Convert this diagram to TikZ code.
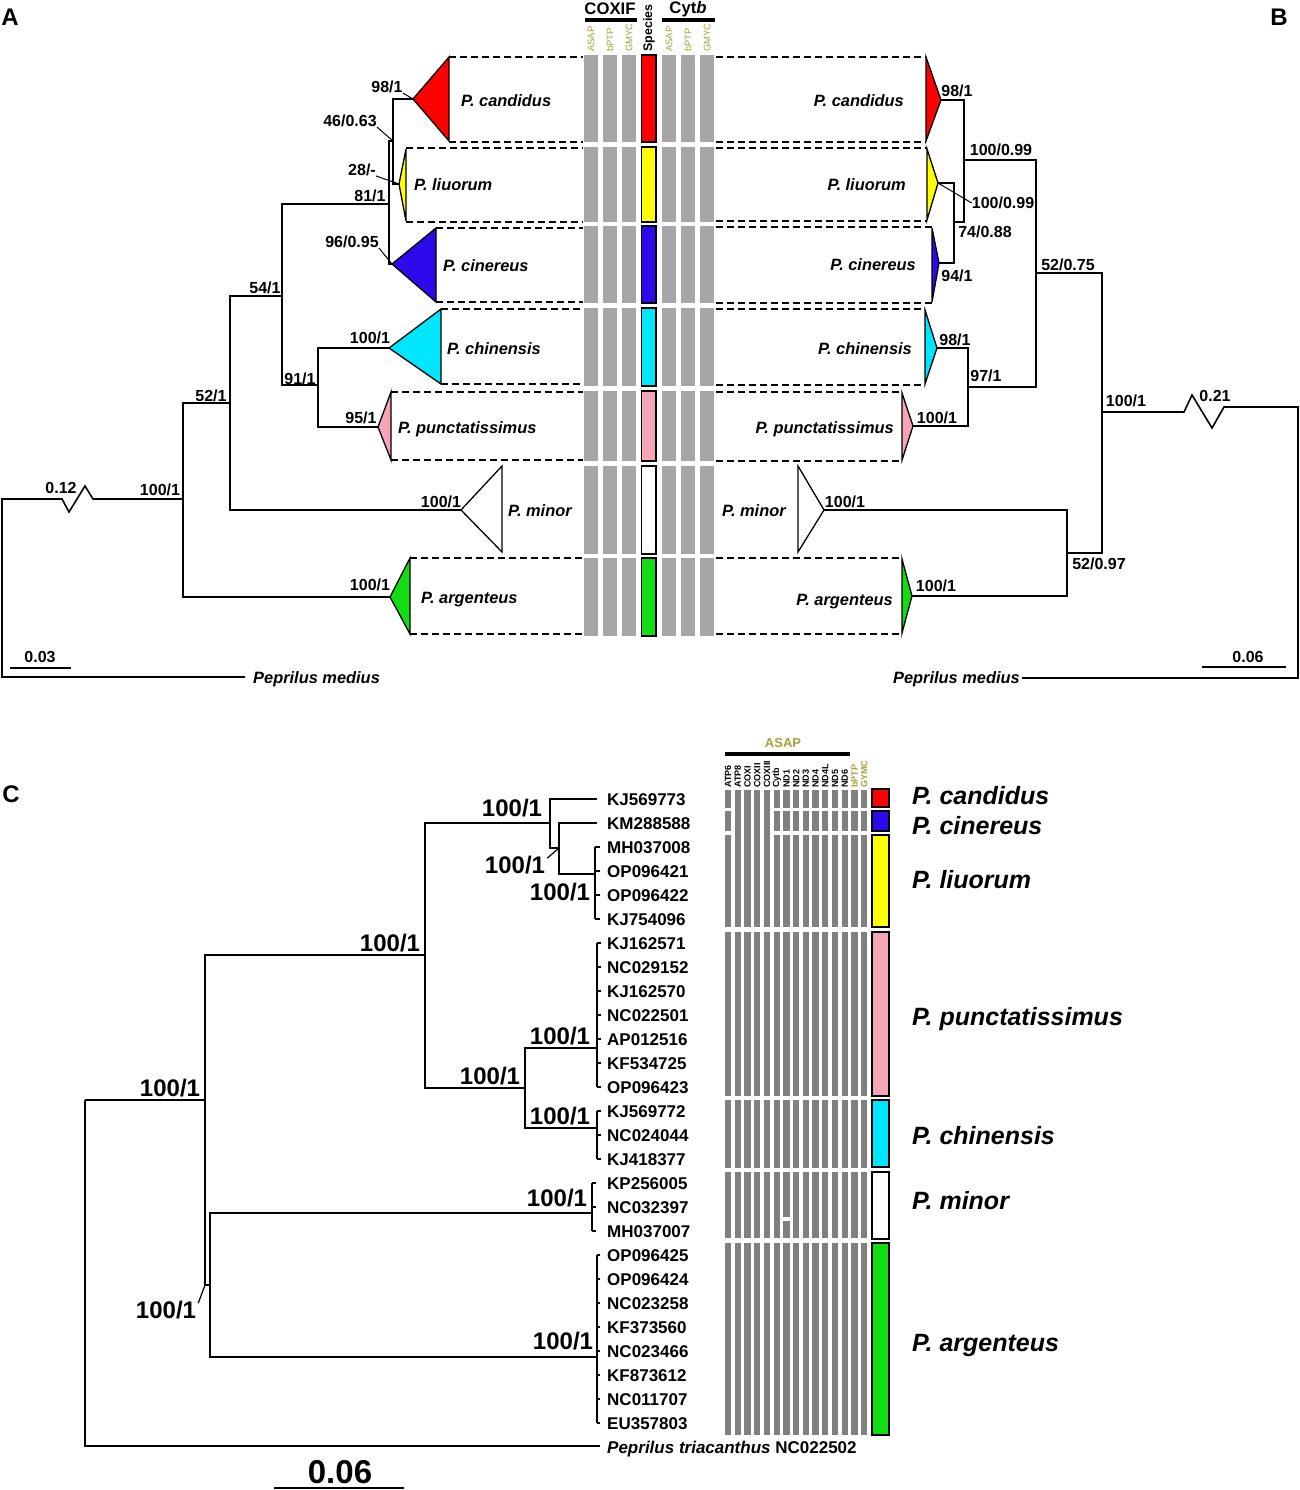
\documentclass[tikz,border=0pt]{standalone}
\usepackage{fontspec}
\setmainfont{Liberation Sans}
\definecolor{asap}{RGB}{166,160,60}
\definecolor{greyA}{RGB}{166,166,166}
\definecolor{greyC}{RGB}{128,128,128}
\definecolor{spred}{RGB}{255,0,0}
\definecolor{spyel}{RGB}{255,255,0}
\definecolor{spblu}{RGB}{45,10,235}
\definecolor{spcya}{RGB}{0,230,255}
\definecolor{sppin}{RGB}{245,165,182}
\definecolor{spgrn}{RGB}{20,220,20}
\newcommand\fsz[1]{\fontsize{#1}{#1}\selectfont}
\begin{document}
\begin{tikzpicture}[x=1pt,y=-1pt,line join=miter,
  br/.style={line width=1.6pt},
  tri/.style={line width=1.3pt},
  dsh/.style={dash pattern=on 7pt off 4pt,line width=2.6pt},
  sup/.style={font=\fsz{16}\bfseries,inner sep=0pt,text height=11.5pt,text depth=0pt},
  spl/.style={font=\fsz{16.4}\bfseries\itshape,inner sep=0pt,text height=11.8pt,text depth=0pt},
  acc/.style={font=\fsz{17}\bfseries,inner sep=0pt,text height=12.2pt,text depth=0pt,anchor=west},
  supc/.style={font=\fsz{24}\bfseries,inner sep=0pt,text height=17.3pt,text depth=0pt},
  spc/.style={font=\fsz{25}\bfseries\itshape,inner sep=0pt,text height=18pt,text depth=0pt,anchor=west},
  vlab/.style={font=\fsz{9.5},rotate=90,anchor=west,inner sep=0pt,text=asap},
  clab/.style={font=\fsz{9}\bfseries,rotate=90,anchor=west,inner sep=0pt},
  pl/.style={font=\fsz{24}\bfseries,inner sep=0pt}]
\useasboundingbox (0,0) rectangle (1299,1490);

% ---------------- panel letters
\node[pl] (lA) at (10,17) {A};
\node[pl] (lB) at (1279,17) {B};
\node[pl] (lC) at (11,794) {C};

% ---------------- panel A/B header
\node[font=\fsz{16.7}\bfseries,inner sep=0pt] (hCOX) at (610,9) {COXIF};
\node[font=\fsz{16.7}\bfseries,inner sep=0pt] (hCyt) at (688,9) {Cyt\textit{b}};
\draw[line width=4pt] (585,20) -- (637,20);
\draw[line width=4pt] (662,20) -- (715,20);
\node[vlab] (v1) at (591,52) {ASAP};
\node[vlab] (v2) at (610,52) {bPTP};
\node[vlab] (v3) at (629,52) {GMYC};
\node[font=\fsz{12.5}\bfseries,rotate=90,anchor=west,inner sep=0pt] (vsp) at (649,52) {Species};
\node[vlab] (v4) at (669,52) {ASAP};
\node[vlab] (v5) at (688,52) {bPTP};
\node[vlab] (v6) at (707,52) {GMYC};

% grey columns
\foreach \ya/\yb in {55/142,147/222,226/303,308/386,391/461,466/554,558/636}{
  \foreach \xa in {584,603,622,662,681,700}{
    \fill[greyA] (\xa,\ya) rectangle (\xa+14,\yb);
  }
}
\foreach \ya/\yb/\c in {55/142/spred,147/222/spyel,226/303/spblu,308/386/spcya,391/461/sppin,466/554/white,558/636/spgrn}{
  \draw[line width=1.3pt,fill=\c] (641.5,\ya) rectangle (656,\yb);
}

% dashed boxes left
\foreach \xa/\ya/\yb in {449/57/142,406/148/222,436/228/302,441/309/384,391/392/460,410/558/634}{
  \draw[dsh] (\xa,\ya) -- (583,\ya);
  \draw[dsh] (\xa,\yb) -- (583,\yb);
}
% dashed boxes right
\foreach \xa/\ya/\yb in {926/57/142,927/148/221,932/227/303,925/309/385,902/392/461,902/558/634}{
  \draw[dsh] (716,\ya) -- (\xa,\ya);
  \draw[dsh] (716,\yb) -- (\xa,\yb);
}

% ---------------- left tree (A)
\coordinate (Lroot) at (2,499);
\coordinate (Lout) at (245,677);
\coordinate (L100) at (183,499);
\coordinate (L52) at (230,403);
\coordinate (L54) at (282,296);
\coordinate (L81) at (389,204);
\coordinate (L46) at (393,141);
\coordinate (L91) at (318,385);
\coordinate (Lcan) at (413,99);
\coordinate (Lliu) at (399,184);
\coordinate (Lcin) at (392,264);
\coordinate (Lchi) at (389,348);
\coordinate (Lpun) at (378,427);
\coordinate (Lmin) at (461,510);
\coordinate (Larg) at (390,597);

\draw[tri,fill=spred] (Lcan) -- (449,57) -- (449,141) -- cycle;
\draw[tri,fill=spyel] (Lliu) -- (406,149) -- (406,221) -- cycle;
\draw[tri,fill=spblu] (Lcin) -- (436,228) -- (436,302) -- cycle;
\draw[tri,fill=spcya] (Lchi) -- (441,309) -- (441,384) -- cycle;
\draw[tri,fill=sppin] (Lpun) -- (391,392) -- (391,460) -- cycle;
\draw[tri,fill=white] (Lmin) -- (502,466) -- (502,552) -- cycle;
\draw[tri,fill=spgrn] (Larg) -- (410,558) -- (410,634) -- cycle;

\draw[br] (L100) |- (Larg);
\draw[br] (L100) |- (L52);
\draw[br] (L52) |- (Lmin);
\draw[br] (L52) |- (L54);
\draw[br] (L54) |- (L81);
\draw[br] (L54) |- (L91);
\draw[br] (L81) |- (L46);
\draw[br] (L81) |- (Lcin);
\draw[br] (L46) |- (Lcan);
\draw[br] (L46) |- (Lliu);
\draw[br] (L91) |- (Lchi);
\draw[br] (L91) |- (Lpun);
\draw[br] (L100) -- (93,499) -- (85,486) -- (69,512) -- (62,499) -- (Lroot) -- (2,677) -- (Lout);
\draw[br] (10,668) -- (71,668);

\node[spl,anchor=west] (sLcan) at (461,101) {P. candidus};
\node[spl,anchor=west] (sLliu) at (414,185) {P. liuorum};
\node[spl,anchor=west] (sLcin) at (443,266) {P. cinereus};
\node[spl,anchor=west] (sLchi) at (447,349) {P. chinensis};
\node[spl,anchor=west] (sLpun) at (398,428) {P. punctatissimus};
\node[spl,anchor=west] (sLmin) at (508,511) {P. minor};
\node[spl,anchor=west] (sLarg) at (421,598) {P. argenteus};
\node[spl,anchor=west] (sLout) at (253,678) {Peprilus medius};

\node[sup] (a1) at (387,87) {98/1};
\node[sup] (a2) at (350,121) {46/0.63};
\node[sup] (a3) at (362,170) {28/-};
\node[sup] (a4) at (370,196) {81/1};
\node[sup] (a5) at (352,242) {96/0.95};
\node[sup] (a6) at (265,288) {54/1};
\node[sup] (a7) at (370,338) {100/1};
\node[sup] (a8) at (300,379) {91/1};
\node[sup] (a9) at (361,418) {95/1};
\node[sup] (a10) at (211,396) {52/1};
\node[sup] (a11) at (441,502) {100/1};
\node[sup] (a12) at (160,490) {100/1};
\node[sup] (a13) at (61,488) {0.12};
\node[sup] (a14) at (370,585) {100/1};
\node[sup] (a15) at (40,657) {0.03};
\draw[line width=1pt] (a1.south east) -- (Lcan);
\draw[line width=1pt] (a2.south east) -- (L46);
\draw[line width=1pt] (a3.south east) -- (Lliu);
\draw[line width=1pt] (a5.south east) -- (Lcin);

% ---------------- right tree (B)
\coordinate (Rcan) at (941,100);
\coordinate (Rliu) at (938,183);
\coordinate (Rcin) at (939,263);
\coordinate (Rchi) at (937,348);
\coordinate (Rpun) at (913,426);
\coordinate (Rmin) at (824,510);
\coordinate (Rarg) at (912,596);
\coordinate (R94) at (954,222);
\coordinate (R100a) at (964,160);
\coordinate (R97) at (968,387);
\coordinate (R52a) at (1036,273);
\coordinate (R52b) at (1067,553);
\coordinate (R100b) at (1102,412);
\coordinate (Rout) at (1022,678);

\draw[tri,fill=spred] (Rcan) -- (926,57) -- (926,141) -- cycle;
\draw[tri,fill=spyel] (Rliu) -- (927,149) -- (927,220) -- cycle;
\draw[tri,fill=spblu] (Rcin) -- (932,228) -- (932,302) -- cycle;
\draw[tri,fill=spcya] (Rchi) -- (925,310) -- (925,384) -- cycle;
\draw[tri,fill=sppin] (Rpun) -- (902,393) -- (902,460) -- cycle;
\draw[tri,fill=white] (Rmin) -- (798,466) -- (798,552) -- cycle;
\draw[tri,fill=spgrn] (Rarg) -- (902,559) -- (902,633) -- cycle;

\draw[br] (R94) |- (Rliu);
\draw[br] (R94) |- (Rcin);
\draw[br] (R100a) |- (Rcan);
\draw[br] (R100a) |- (R94);
\draw[br] (R97) |- (Rchi);
\draw[br] (R97) |- (Rpun);
\draw[br] (R52a) |- (R100a);
\draw[br] (R52a) |- (R97);
\draw[br] (R52b) |- (Rmin);
\draw[br] (R52b) |- (Rarg);
\draw[br] (R100b) |- (R52a);
\draw[br] (R100b) |- (R52b);
\draw[br] (R100b) -- (1184,412) -- (1192,395) -- (1212,428) -- (1224,407) -- (1298,407) -- (1298,678) -- (Rout);
\draw[br] (1202,667) -- (1286,667);

\node[spl,anchor=east] (sRcan) at (904,101) {P. candidus};
\node[spl,anchor=east] (sRliu) at (906,185) {P. liuorum};
\node[spl,anchor=east] (sRcin) at (916,265) {P. cinereus};
\node[spl,anchor=east] (sRchi) at (912,349) {P. chinensis};
\node[spl,anchor=east] (sRpun) at (894,428) {P. punctatissimus};
\node[spl,anchor=west] (sRmin) at (722,511) {P. minor};
\node[spl,anchor=east] (sRarg) at (893,600) {P. argenteus};
\node[spl,anchor=east] (sRout) at (1020,678) {Peprilus medius};

\node[sup] (b1) at (957,91) {98/1};
\node[sup] (b2) at (1001,150) {100/0.99};
\node[sup] (b3) at (1003,203) {100/0.99};
\node[sup] (b4) at (985,232) {74/0.88};
\node[sup] (b5) at (957,276) {94/1};
\node[sup] (b6) at (1068,265) {52/0.75};
\node[sup] (b7) at (955,340) {98/1};
\node[sup] (b8) at (986,376) {97/1};
\node[sup] (b9) at (937,418) {100/1};
\node[sup] (b10) at (1126,401) {100/1};
\node[sup] (b11) at (1215,396) {0.21};
\node[sup] (b12) at (845,502) {100/1};
\node[sup] (b13) at (1099,564) {52/0.97};
\node[sup] (b14) at (936,586) {100/1};
\node[sup] (b15) at (1248,657) {0.06};
\draw[line width=1pt] (Rliu) -- (b3.west);

% ---------------- panel C header and columns
\node[font=\fsz{13}\bfseries,text=asap,inner sep=0pt] (hASAP) at (783,743) {ASAP};
\draw[line width=4pt] (725,754) -- (850,754);
\foreach \t [count=\i from 0] in {ATP6,ATP8,COXI,COXII,COXIII,Cytb,ND1,ND2,ND3,ND4,ND4L,ND5,ND6}{
  \node[clab] (cl\i) at ({728.1+9.72*\i},788) {\t};
}
\node[clab,text=asap] (cl13) at ({728.1+9.72*13},788) {bPTP};
\node[clab,text=asap] (cl14) at ({728.1+9.72*14},788) {GYMC};

\foreach \i in {0,...,14}{
  \foreach \ya/\yb in {790/808,811/831,835/927,932/1096,1100/1168,1172/1238,1243/1435}{
    \fill[greyC] ({725+9.72*\i},\ya) rectangle ({731.2+9.72*\i},\yb);
  }
}
\foreach \i in {1,...,4}{
  \fill[greyC] ({725+9.72*\i},807) rectangle ({731.2+9.72*\i},836);
}
\fill[white] ({724+9.72*6},1217) rectangle ({732.2+9.72*6},1221);

\foreach \ya/\yb/\c in {789/807/spred,811/831/spblu,835/927/spyel,932/1096/sppin,1100/1167/spcya,1172/1239/white,1243/1435/spgrn}{
  \draw[line width=1.5pt,fill=\c] (872,\ya) rectangle (889,\yb);
}

\node[spc] (cs1) at (912,795) {P. candidus};
\node[spc] (cs2) at (912,825) {P. cinereus};
\node[spc] (cs3) at (912,879) {P. liuorum};
\node[spc] (cs4) at (912,1016) {P. punctatissimus};
\node[spc] (cs5) at (912,1135) {P. chinensis};
\node[spc] (cs6) at (912,1200) {P. minor};
\node[spc] (cs7) at (912,1342) {P. argenteus};

% accessions
\foreach \t [count=\i from 0] in {KJ569773,KM288588,MH037008,OP096421,OP096422,KJ754096,KJ162571,NC029152,KJ162570,NC022501,AP012516,KF534725,OP096423,KJ569772,NC024044,KJ418377,KP256005,NC032397,MH037007,OP096425,OP096424,NC023258,KF373560,NC023466,KF873612,NC011707,EU357803}{
  \node[acc] (acc\i) at (607,{799+24*\i}) {\t};
}
\node[acc] (accout) at (607,1447) {\textit{Peprilus triacanthus} NC022502};

% ---------------- tree C
\coordinate (Croot) at (85,1100);
\coordinate (Cout) at (600,1446);
\coordinate (Cn1) at (205,1100);
\coordinate (Cbig) at (425,955);
\coordinate (Cma) at (210,1285);
\coordinate (Ctop) at (550,823);
\coordinate (Cx) at (559,848);
\coordinate (Cliu) at (595,874);
\coordinate (Cpc) at (525,1088);
\coordinate (Cpun) at (597,1048);
\coordinate (Cchi) at (597,1128);
\coordinate (Cmin) at (592,1213);
\coordinate (Carg) at (597,1357);
\coordinate (Ccan) at (597,799);
\coordinate (Ccin) at (597,823);

\draw[br] (Croot) |- (Cout);
\draw[br] (Croot) -- (Cn1);
\draw[br] (Cn1) |- (Cbig);
\draw[br] (Cn1) |- (Cma);
\draw[br] (Cbig) |- (Ctop);
\draw[br] (Cbig) |- (Cpc);
\draw[br] (Ctop) |- (Ccan);
\draw[br] (Ctop) |- (Cx);
\draw[br] (Cx) |- (Ccin);
\draw[br] (Cx) |- (Cliu);
\draw[br] (Cpc) |- (Cpun);
\draw[br] (Cpc) |- (Cchi);
\draw[br] (Cma) |- (Cmin);
\draw[br] (Cma) |- (Carg);
% terminal brackets
\draw[br] (595,847) -- (595,919);
\foreach \y in {847,871,895,919} \draw[line width=1.4pt] (595,\y) -- (600,\y);
\draw[br] (597,943) -- (597,1087);
\foreach \y in {943,967,991,1015,1039,1063,1087} \draw[line width=1.4pt] (597,\y) -- (601,\y);
\draw[br] (597,1111) -- (597,1159);
\foreach \y in {1111,1135,1159} \draw[line width=1.4pt] (597,\y) -- (601,\y);
\draw[br] (592,1183) -- (592,1231);
\foreach \y in {1183,1207,1231} \draw[line width=1.4pt] (592,\y) -- (596,\y);
\draw[br] (597,1255) -- (597,1423);
\foreach \y in {1255,1279,1303,1327,1351,1375,1399,1423} \draw[line width=1.4pt] (597,\y) -- (600,\y);
\draw[br] (274,1488) -- (404,1488);

\node[supc] (c1) at (512,808) {100/1};
\node[supc] (c2) at (515,865) {100/1};
\node[supc] (c3) at (560,892) {100/1};
\node[supc] (c4) at (390,943) {100/1};
\node[supc] (c5) at (560,1036) {100/1};
\node[supc] (c6) at (490,1076) {100/1};
\node[supc] (c7) at (560,1116) {100/1};
\node[supc] (c8) at (170,1088) {100/1};
\node[supc] (c9) at (557,1198) {100/1};
\node[supc] (c10) at (166,1310) {100/1};
\node[supc] (c11) at (563,1341) {100/1};
\node[font=\fsz{33}\bfseries,inner sep=0pt,text height=23.8pt,text depth=0pt] (c12) at (340,1472) {0.06};
\draw[line width=1.2pt] (c2.north east) ++(2,2) -- (Cx);
\draw[line width=1.2pt] (c10.north east) ++(2,2) -- (205,1285);
\end{tikzpicture}
\end{document}
